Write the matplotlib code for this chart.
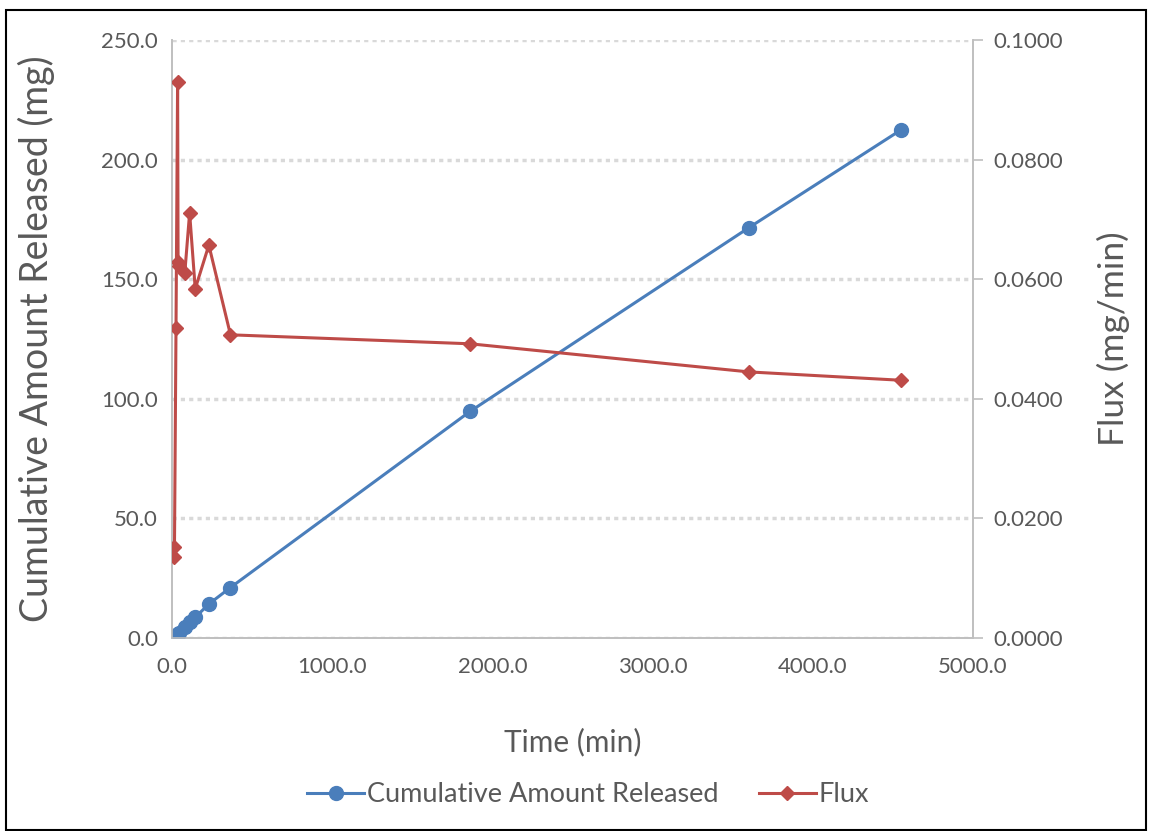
import matplotlib.pyplot as plt
from matplotlib.patches import Rectangle
from matplotlib.ticker import FormatStrFormatter, MultipleLocator

# sampling times (min), cumulative release (mg) and flux (mg/min)
time_min = [10, 15, 25, 35, 38, 42, 80, 110, 145, 230, 365, 1860, 3600, 4550]
cumulative_mg = [0.15, 0.23, 0.75, 1.68, 1.87, 2.12, 4.45, 6.58, 8.63,
                 14.2, 21.1, 94.7, 171.5, 212.4]
flux = [0.0153, 0.0135, 0.0518, 0.0930, 0.0629, 0.0622, 0.0611, 0.0711,
        0.0584, 0.0657, 0.0507, 0.0492, 0.0445, 0.0431]

blue = '#4A7EBB'
red = '#BE4B48'
text_gray = '#595959'
axis_gray = '#BFBFBF'

plt.rcParams['font.family'] = ['Lato', 'DejaVu Sans']

fig = plt.figure(figsize=(11.49, 8.31), dpi=100)
ax = fig.add_axes([172 / 1149, 1 - 638 / 831, 801 / 1149, 598 / 831])
ax2 = ax.twinx()

ax.plot(time_min, cumulative_mg, color=blue, lw=2.2, marker='o', ms=10,
        label='Cumulative Amount Released', zorder=3)
ax2.plot(time_min, flux, color=red, lw=2.2, marker='D', ms=7,
         label='Flux', zorder=3)

ax.set_xlim(0, 5000)
ax.set_ylim(0, 250)
ax2.set_ylim(0, 0.1)
ax.xaxis.set_major_locator(MultipleLocator(1000))
ax.yaxis.set_major_locator(MultipleLocator(50))
ax2.yaxis.set_major_locator(MultipleLocator(0.02))
ax.xaxis.set_major_formatter(FormatStrFormatter('%.1f'))
ax.yaxis.set_major_formatter(FormatStrFormatter('%.1f'))
ax2.yaxis.set_major_formatter(FormatStrFormatter('%.4f'))

ax.grid(axis='y', color='#D9D9D9', lw=2.5, ls=(0, (1.2, 1.2)))
ax.set_axisbelow(True)

for a in (ax, ax2):
    a.spines['top'].set_visible(False)
    for s in ('left', 'right', 'bottom'):
        a.spines[s].set_color(axis_gray)
        a.spines[s].set_linewidth(1.2)
    a.tick_params(colors=text_gray, labelsize=16, length=0, pad=10)
ax2.tick_params(axis='y', length=7, color=axis_gray, width=1.2, pad=8)
ax.tick_params(axis='x', pad=14)
ax2.set_zorder(ax.get_zorder() + 1)
ax2.patch.set_visible(False)

ax.set_xlabel('Time (min)', fontsize=21.5, color=text_gray)
ax.xaxis.set_label_coords(0.5, -(742 - 638) / 598, transform=ax.transAxes)
ax.xaxis.label.set_va('center')
ax.set_ylabel('Cumulative Amount Released (mg)', fontsize=27, color=text_gray)
ax.yaxis.set_label_coords(-(172 - 36) / 801, 0.5)
ax.yaxis.label.set_va('center')
ax2.set_ylabel('Flux (mg/min)', fontsize=25.5, color=text_gray)
ax2.yaxis.set_label_coords(1 + (1113 - 973) / 801, 0.5)
ax2.yaxis.label.set_va('center')

h1, l1 = ax.get_legend_handles_labels()
h2, l2 = ax2.get_legend_handles_labels()
fig.legend(h1 + h2, l1 + l2, loc='center', bbox_to_anchor=(588 / 1149, 1 - 795 / 831),
           ncol=2, frameon=False, fontsize=19.5, labelcolor=text_gray,
           handlelength=2.1, handletextpad=0.1, columnspacing=1.5)

fig.patches.append(Rectangle((6 / 1149, 1 / 831), 1140 / 1149, 820 / 831,
                             transform=fig.transFigure, fill=False,
                             edgecolor='black', lw=1.5))

fig.savefig('out.png', dpi=100)
